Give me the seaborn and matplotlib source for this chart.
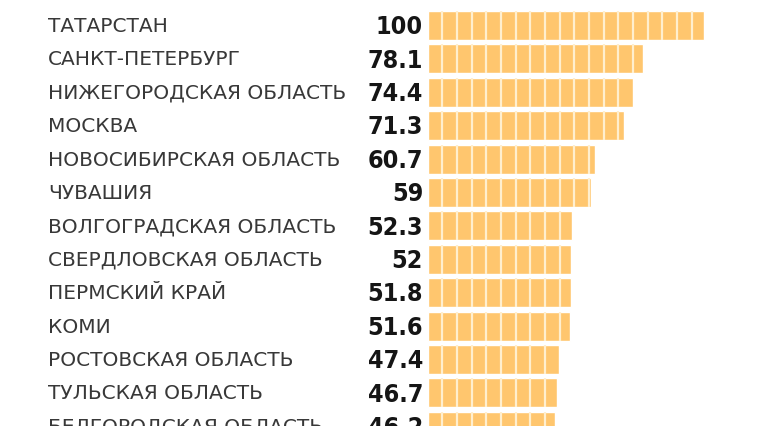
import matplotlib
matplotlib.use("Agg")
import matplotlib.pyplot as plt
import matplotlib.transforms as mtransforms
import seaborn as sns
import pandas as pd

regions = ["ТАТАРСТАН", "САНКТ-ПЕТЕРБУРГ", "НИЖЕГОРОДСКАЯ ОБЛАСТЬ", "МОСКВА",
           "НОВОСИБИРСКАЯ ОБЛАСТЬ", "ЧУВАШИЯ", "ВОЛГОГРАДСКАЯ ОБЛАСТЬ",
           "СВЕРДЛОВСКАЯ ОБЛАСТЬ", "ПЕРМСКИЙ КРАЙ", "КОМИ", "РОСТОВСКАЯ ОБЛАСТЬ",
           "ТУЛЬСКАЯ ОБЛАСТЬ", "БЕЛГОРОДСКАЯ ОБЛАСТЬ"]
values = [100, 78.1, 74.4, 71.3, 60.7, 59, 52.3, 52, 51.8, 51.6, 47.4, 46.7, 46.2]
value_labels = ["100", "78.1", "74.4", "71.3", "60.7", "59", "52.3", "52",
                "51.8", "51.6", "47.4", "46.7", "46.2"]

df = pd.DataFrame({"region": regions, "value": values})

sns.set_style("white")
plt.rcParams['font.family'] = ['DejaVu Sans']

fig = plt.figure(figsize=(7.6, 4.27), dpi=100)
ax = fig.add_axes([0, 0, 1, 1])

bar_color = "#FFC66E"
bar_h = 0.87
sns.barplot(data=df, x="value", y="region", orient="h", color=bar_color,
            width=bar_h, saturation=1, ax=ax, zorder=2)

# pixel mapping: x=0 at 427.7px, 100 at 703.7px
scale = 2.76
x0 = -427.7 / scale
ax.set_xlim(x0, x0 + 760 / scale)
ax.set_ylim((427 - 26.5) / 33.4, -26.5 / 33.4)

# segment separators, only inside each bar
seg = 5.31
for i, v in enumerate(values):
    xs = []
    k = 1
    while k * seg < v - 0.3:
        xs.append(k * seg)
        k += 1
    ax.vlines(xs, i - bar_h / 2, i + bar_h / 2, color="#FFEFCF", lw=1.6, zorder=3)

ax.axis("off")

trans = mtransforms.blended_transform_factory(fig.transFigure, ax.transData)
for i, (r, lab) in enumerate(zip(regions, value_labels)):
    ax.text(48 / 760, i, r, transform=trans, ha="left", va="center",
            fontsize=14.5, color="#383838")
    ax.text(423 / 760, i + 0.02, lab, transform=trans, ha="right", va="center",
            fontsize=18, color="#151515", fontweight="bold",
            fontstretch="condensed")

fig.savefig("out.png", dpi=100)
